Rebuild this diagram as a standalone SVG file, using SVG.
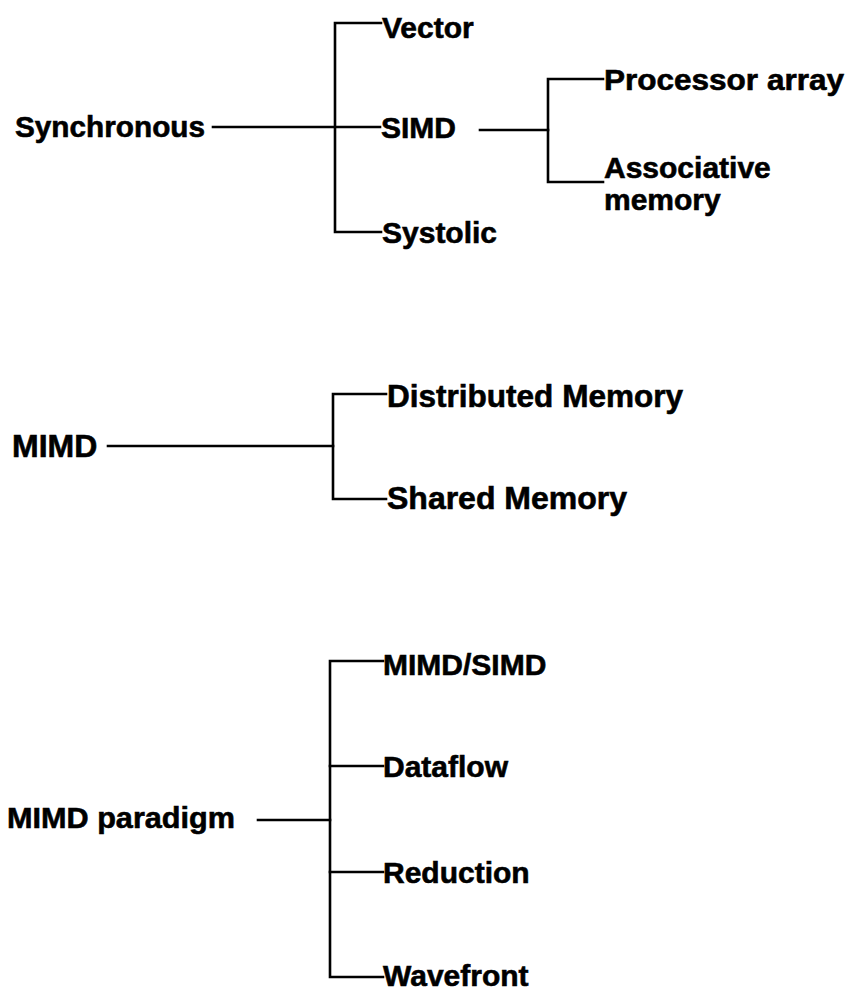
<svg xmlns="http://www.w3.org/2000/svg" width="855" height="993" viewBox="0 0 855 993">
  <style>
    .lbl { font-family: "Liberation Sans", Arial, Helvetica, sans-serif; font-weight: bold; font-size: 30px; fill: #000; stroke: #000; stroke-width: 0.6px; }
    .big { font-size: 32px; }
    .wire { fill: none; stroke: #000; stroke-width: 2.6; stroke-linecap: square; stroke-linejoin: miter; }
  </style>
  <rect width="855" height="993" fill="#fff"/>

  <!-- connector trees -->
  <g id="connectors" class="wire">
    <!-- Synchronous tree -->
    <path d="M213 127 H380"/>
    <path d="M381 23 H335 V232 H381"/>
    <path d="M480 130 H548"/>
    <path d="M603 79 H548 V182 H603"/>
    <!-- MIMD tree -->
    <path d="M108 446 H333"/>
    <path d="M386 394 H333 V499 H386"/>
    <!-- MIMD paradigm tree -->
    <path d="M258 820 H330"/>
    <path d="M383 661 H330 V977 H383"/>
    <path d="M330 766 H383"/>
    <path d="M330 872 H383"/>
  </g>

  <!-- Synchronous family -->
  <g id="synchronous"><text class="lbl" x="15" y="137" textLength="190" lengthAdjust="spacingAndGlyphs">Synchronous</text></g>
  <g id="vector"><text class="lbl" x="382" y="38">Vector</text></g>
  <g id="simd"><text class="lbl" x="381" y="138">SIMD</text></g>
  <g id="systolic"><text class="lbl" x="382" y="243">Systolic</text></g>
  <g id="processor-array"><text class="lbl" x="604" y="90" textLength="240" lengthAdjust="spacingAndGlyphs">Processor array</text></g>
  <g id="associative-memory">
    <text class="lbl" x="604" y="178">Associative</text>
    <text class="lbl" x="604" y="210">memory</text>
  </g>

  <!-- MIMD family -->
  <g id="mimd"><text class="lbl big" x="12" y="457">MIMD</text></g>
  <g id="distributed-memory"><text class="lbl big" x="387" y="407" textLength="296" lengthAdjust="spacingAndGlyphs">Distributed Memory</text></g>
  <g id="shared-memory"><text class="lbl big" x="387" y="509" textLength="240" lengthAdjust="spacingAndGlyphs">Shared Memory</text></g>

  <!-- MIMD paradigm family -->
  <g id="mimd-paradigm"><text class="lbl" x="7" y="828" textLength="228" lengthAdjust="spacingAndGlyphs">MIMD paradigm</text></g>
  <g id="mimd-simd"><text class="lbl" x="383" y="675">MIMD/SIMD</text></g>
  <g id="dataflow"><text class="lbl" x="383" y="777">Dataflow</text></g>
  <g id="reduction"><text class="lbl" x="383" y="883">Reduction</text></g>
  <g id="wavefront"><text class="lbl" x="383" y="986">Wavefront</text></g>
</svg>
